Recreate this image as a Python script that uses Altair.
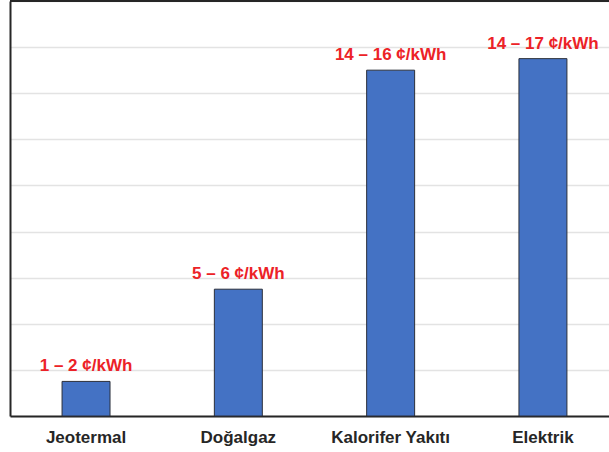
import altair as alt
import pandas as pd

# Heating cost comparison (cents per kWh)
sources = ["Jeotermal", "Doğalgaz", "Kalorifer Yakıtı", "Elektrik"]
midpoints = [1.5, 5.5, 15.0, 15.5]
cost_labels = ["1 – 2 ¢/kWh", "5 – 6 ¢/kWh", "14 – 16 ¢/kWh", "14 – 17 ¢/kWh"]
y_ticks = [0, 2, 4, 6, 8, 10, 12, 14, 16, 18]

df = pd.DataFrame({"source": sources, "cost": midpoints, "label": cost_labels})

W, H = 599, 415
FONT = "Liberation Sans"

x_enc = alt.X(
    "source:N",
    sort=sources,
    scale=alt.Scale(paddingInner=0.685, paddingOuter=0.309, align=0.553),
    axis=alt.Axis(
        title=None, labelAngle=0, labelFont=FONT, labelFontSize=17,
        labelFontWeight="bold", labelColor="#262626", labelPadding=13,
        ticks=False, domainColor="#262626", domainWidth=2,
    ),
)
y_enc = alt.Y(
    "cost:Q",
    scale=alt.Scale(domain=[0, 18], nice=False),
    axis=alt.Axis(
        title=None, values=y_ticks, labels=False, ticks=False,
        grid=True, gridColor="#e3e3e3", gridWidth=1.5,
        domainColor="#262626", domainWidth=2,
    ),
)

bars = alt.Chart(df).mark_bar(
    color="#4472C4", stroke="#2b2f3a", strokeWidth=1
).encode(x=x_enc, y=y_enc)

labels = alt.Chart(df).mark_text(
    font=FONT, fontSize=17, fontWeight="bold", color="#ec2227",
    baseline="bottom", dy=-6,
).encode(x=alt.X("source:N", sort=sources), y="cost:Q", text="label:N")

top_border = alt.Chart(df).mark_rule(color="#262626", strokeWidth=2).encode(
    y=alt.value(0), x=alt.value(0), x2=alt.value(W)
)

chart = (
    alt.layer(bars, labels, top_border)
    .properties(
        width=W, height=H,
        padding={"left": 10, "top": 1, "right": 0, "bottom": 36},
        autosize=alt.AutoSizeParams(type="none"),
        background="white",
    )
    .configure_view(stroke=None)
)

chart.save("out.html", embed_options={"renderer": "svg", "actions": False})
